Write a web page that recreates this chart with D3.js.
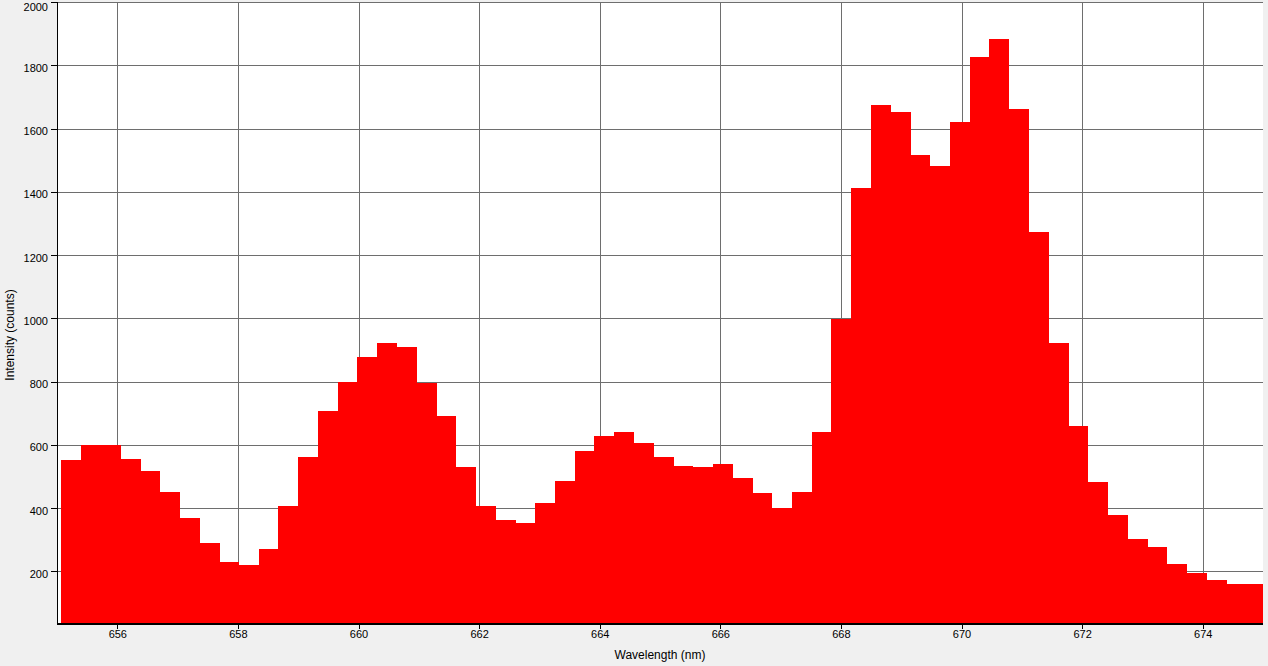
<!DOCTYPE html>
<html>
<head>
<meta charset="utf-8">
<script src="https://cdn.jsdelivr.net/npm/d3@7"></script>
<style>
  html, body { margin: 0; padding: 0; background: #f0f0f0; }
  svg { display: block; }
  text { font-family: "Liberation Sans", Arial, sans-serif; fill: #000; }
</style>
</head>
<body>
<svg id="chart" width="1268" height="666"></svg>
<script>
// Left edge of each spectrometer bin (nm)
const wavelengths = [
  655.07, 655.40, 655.72, 656.05, 656.38, 656.71, 657.04, 657.36, 657.69, 658.02,
  658.35, 658.67, 659.00, 659.33, 659.66, 659.98, 660.31, 660.64, 660.97, 661.29,
  661.62, 661.95, 662.28, 662.60, 662.93, 663.26, 663.59, 663.91, 664.24, 664.57,
  664.90, 665.22, 665.55, 665.88, 666.21, 666.53, 666.86, 667.19, 667.52, 667.84,
  668.17, 668.50, 668.83, 669.15, 669.48, 669.81, 670.14, 670.46, 670.79, 671.12,
  671.45, 671.77, 672.10, 672.43, 672.76, 673.08, 673.41, 673.74, 674.07, 674.39,
  674.72
];
const lastEdge = 675.05;
// Intensity (counts)
const intensity = [
  553, 599, 599, 556, 516, 452, 370, 291, 228, 219,
  272, 405, 560, 708, 800, 878, 923, 910, 796, 692,
  531, 408, 363, 354, 417, 487, 581, 629, 641, 607,
  562, 534, 531, 540, 496, 449, 400, 452, 641, 998,
  1412, 1675, 1652, 1516, 1482, 1621, 1826, 1883, 1662, 1273,
  922, 660, 483, 378, 302, 277, 223, 195, 173, 160,
  160
];
const xTicks = [656, 658, 660, 662, 664, 666, 668, 670, 672, 674];
const yTicks = [200, 400, 600, 800, 1000, 1200, 1400, 1600, 1800, 2000];
const xLabel = "Wavelength (nm)";
const yLabel = "Intensity (counts)";

(function () {
const svg = d3.select("#chart");
const pL = 57, pR = 1263, pT = 2, pB = 623.5;

const x = d3.scaleLinear().domain([655, 675]).range([pL, pR]);
const y = d3.scaleLinear().domain([35, 2000]).range([pB, pT]);

const data = wavelengths.map((w, i) => ({
  x0: w,
  x1: i < wavelengths.length - 1 ? wavelengths[i + 1] : lastEdge,
  v: intensity[i]
}));

svg.append("defs").append("clipPath").attr("id", "plotclip")
  .append("rect").attr("x", pL).attr("y", pT).attr("width", pR - pL).attr("height", pB - pT);

// plot background
svg.append("rect").attr("x", pL).attr("y", pT).attr("width", pR - pL).attr("height", pB - pT)
  .attr("fill", "#ffffff");

// gridlines
const grid = svg.append("g").attr("shape-rendering", "crispEdges").attr("stroke", "#6e6e6e").attr("stroke-width", 1);
grid.selectAll("line.gx").data(xTicks).join("line").attr("class", "gx")
  .attr("x1", d => Math.round(x(d)) + 0.5).attr("x2", d => Math.round(x(d)) + 0.5)
  .attr("y1", pT).attr("y2", pB);
grid.selectAll("line.gy").data(yTicks).join("line").attr("class", "gy")
  .attr("x1", pL).attr("x2", pR)
  .attr("y1", d => Math.round(y(d)) + 0.5).attr("y2", d => Math.round(y(d)) + 0.5);

// bars
svg.append("g").attr("clip-path", "url(#plotclip)").attr("shape-rendering", "crispEdges")
  .selectAll("rect").data(data).join("rect")
  .attr("x", d => x(d.x0))
  .attr("width", d => x(d.x1) - x(d.x0) + 0.3)
  .attr("y", d => y(d.v))
  .attr("height", d => pB - y(d.v))
  .attr("fill", "#ff0000");

// axes
const xAxis = d3.axisBottom(x).tickValues(xTicks).tickSize(5).tickPadding(2).tickFormat(d3.format("d"));
const yAxis = d3.axisLeft(y).tickValues(yTicks).tickSize(6).tickPadding(3).tickFormat(d3.format("d"));

const gx = svg.append("g").attr("transform", `translate(0,${pB})`).call(xAxis);
const gy = svg.append("g").attr("transform", `translate(${pL},0)`).call(yAxis);
[gx, gy].forEach(g => {
  g.attr("shape-rendering", "crispEdges");
  g.select(".domain").attr("stroke", "#000").attr("stroke-width", 1.2);
  g.selectAll(".tick line").attr("stroke", "#000");
  g.selectAll(".tick text").attr("font-size", 11).attr("font-family", "'Liberation Sans', Arial, sans-serif").attr("fill", "#000");
});
gy.selectAll(".tick text").attr("dy", d => d === 2000 ? "8.5px" : "6px");
gx.select(".domain").attr("d", `M${pL},0.5H${pR}`);
gy.select(".domain").attr("d", `M0.5,${pT}V${pB}`);

// axis titles
svg.append("text")
  .attr("x", (pL + pR) / 2)
  .attr("y", 659)
  .attr("text-anchor", "middle")
  .attr("font-size", 12)
  .text(xLabel);

svg.append("text")
  .attr("transform", `translate(14,335) rotate(-90)`)
  .attr("text-anchor", "middle")
  .attr("font-size", 12)
  .text(yLabel);
})();
</script>
</body>
</html>
